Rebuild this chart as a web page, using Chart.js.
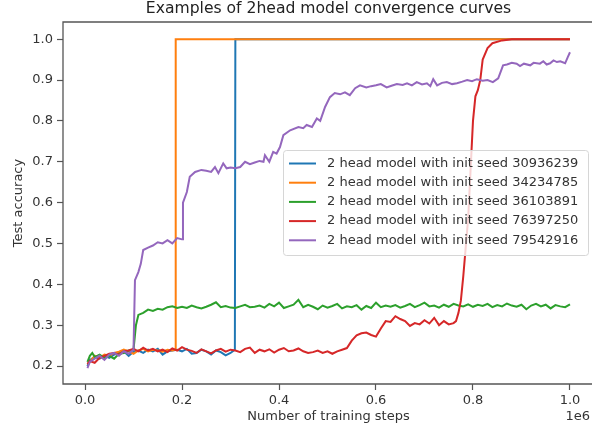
<!DOCTYPE html>
<html lang="en">
<head>
  <meta charset="UTF-8" />
  <title>2head model convergence curves</title>
  <script src="https://cdn.jsdelivr.net/npm/chart.js"></script>
  <style>
    body { margin: 0; background: #fff; }
    canvas { display: block; }
  </style>
</head>
<body>
  <canvas id="curves" width="592" height="430"></canvas>

  <script>
    const seedLabels = [
      "2 head model with init seed 30936239",
      "2 head model with init seed 34234785",
      "2 head model with init seed 36103891",
      "2 head model with init seed 76397250",
      "2 head model with init seed 79542916"
    ];
    const lineColors = ["#1f77b4", "#ff7f0e", "#2ca02c", "#d62728", "#9467bd"];
    const xTicks = [0, 0.2, 0.4, 0.6, 0.8, 1.0];
    const yTicks = [0.2, 0.3, 0.4, 0.5, 0.6, 0.7, 0.8, 0.9, 1.0];

    // training steps are in units of 1e6
    const blueSteps = [0.005, 0.01, 0.02, 0.03, 0.04, 0.05, 0.06, 0.07, 0.08, 0.09, 0.10, 0.11, 0.12, 0.13, 0.14, 0.15,
      0.16, 0.17, 0.18, 0.19, 0.20, 0.21, 0.22, 0.23, 0.24, 0.25, 0.26, 0.27, 0.28, 0.29, 0.30, 0.309, 0.31, 1.0];
    const blueAcc = [0.200, 0.215, 0.222, 0.218, 0.225, 0.220, 0.228, 0.232, 0.236, 0.225, 0.235, 0.238, 0.232, 0.240, 0.236, 0.242,
      0.228, 0.236, 0.238, 0.240, 0.236, 0.242, 0.230, 0.232, 0.240, 0.236, 0.228, 0.238, 0.234, 0.226, 0.232, 0.240, 1.0, 1.0];

    const orangeSteps = [0.005, 0.01, 0.02, 0.03, 0.04, 0.05, 0.06, 0.07, 0.08, 0.09, 0.10, 0.11, 0.12, 0.13, 0.14, 0.15,
      0.16, 0.17, 0.18, 0.186, 0.187, 1.0];
    const orangeAcc = [0.205, 0.210, 0.225, 0.220, 0.228, 0.225, 0.232, 0.235, 0.240, 0.236, 0.230, 0.238, 0.242, 0.236, 0.240, 0.238,
      0.235, 0.240, 0.238, 0.240, 1.0, 1.0];

    const greenSteps = [0.005, 0.01, 0.015, 0.02, 0.03, 0.04, 0.05, 0.06, 0.07, 0.08, 0.09, 0.10, 0.105, 0.11, 0.12, 0.13,
      0.14, 0.15, 0.16, 0.17, 0.18, 0.19, 0.20, 0.21, 0.22, 0.23, 0.24, 0.25, 0.26, 0.27, 0.28, 0.29,
      0.30, 0.31, 0.32, 0.33, 0.34, 0.35, 0.36, 0.37, 0.38, 0.39, 0.40, 0.41, 0.42, 0.43, 0.44, 0.45,
      0.46, 0.47, 0.48, 0.49, 0.50, 0.51, 0.52, 0.53, 0.54, 0.55, 0.56, 0.57, 0.58, 0.59, 0.60, 0.61,
      0.62, 0.63, 0.64, 0.65, 0.66, 0.67, 0.68, 0.69, 0.70, 0.71, 0.72, 0.73, 0.74, 0.75, 0.76, 0.77,
      0.78, 0.79, 0.80, 0.81, 0.82, 0.83, 0.84, 0.85, 0.86, 0.87, 0.88, 0.89, 0.90, 0.91, 0.92, 0.93,
      0.94, 0.95, 0.96, 0.97, 0.98, 0.99, 1.00];
    const greenAcc = [0.210, 0.225, 0.232, 0.222, 0.228, 0.220, 0.225, 0.218, 0.230, 0.232, 0.238, 0.240, 0.300, 0.325, 0.330, 0.338,
      0.335, 0.340, 0.338, 0.344, 0.346, 0.342, 0.345, 0.342, 0.348, 0.344, 0.341, 0.345, 0.350, 0.356, 0.344, 0.347,
      0.343, 0.342, 0.346, 0.350, 0.344, 0.345, 0.348, 0.343, 0.352, 0.346, 0.355, 0.342, 0.346, 0.350, 0.362, 0.344,
      0.350, 0.345, 0.339, 0.348, 0.343, 0.347, 0.352, 0.341, 0.346, 0.344, 0.349, 0.338, 0.347, 0.342, 0.355, 0.344,
      0.348, 0.345, 0.349, 0.343, 0.347, 0.352, 0.344, 0.349, 0.355, 0.346, 0.348, 0.343, 0.350, 0.345, 0.352, 0.348,
      0.346, 0.351, 0.345, 0.350, 0.347, 0.352, 0.344, 0.349, 0.346, 0.353, 0.348, 0.345, 0.350, 0.339, 0.348, 0.352,
      0.346, 0.350, 0.341, 0.349, 0.346, 0.344, 0.351];

    const redSteps = [0.005, 0.01, 0.02, 0.03, 0.04, 0.05, 0.06, 0.07, 0.08, 0.09, 0.10, 0.11, 0.12, 0.13, 0.14, 0.15,
      0.16, 0.17, 0.18, 0.19, 0.20, 0.21, 0.22, 0.23, 0.24, 0.25, 0.26, 0.27, 0.28, 0.29, 0.30, 0.31,
      0.32, 0.33, 0.34, 0.35, 0.36, 0.37, 0.38, 0.39, 0.40, 0.41, 0.42, 0.43, 0.44, 0.45, 0.46, 0.47,
      0.48, 0.49, 0.50, 0.51, 0.52, 0.53, 0.54, 0.55, 0.56, 0.57, 0.58, 0.59, 0.60, 0.61, 0.62, 0.63,
      0.64, 0.65, 0.66, 0.67, 0.68, 0.69, 0.70, 0.71, 0.72, 0.73, 0.74, 0.75, 0.76, 0.765, 0.77, 0.775,
      0.78, 0.785, 0.79, 0.795, 0.80, 0.805, 0.81, 0.815, 0.82, 0.83, 0.84, 0.86, 0.88, 1.0];
    const redAcc = [0.205, 0.212, 0.208, 0.220, 0.225, 0.230, 0.232, 0.228, 0.236, 0.238, 0.242, 0.236, 0.245, 0.238, 0.242, 0.236,
      0.240, 0.234, 0.243, 0.238, 0.246, 0.240, 0.237, 0.232, 0.241, 0.236, 0.231, 0.238, 0.242, 0.235, 0.240, 0.238,
      0.234, 0.242, 0.245, 0.232, 0.240, 0.236, 0.241, 0.233, 0.240, 0.244, 0.236, 0.238, 0.243, 0.236, 0.232, 0.234,
      0.238, 0.232, 0.236, 0.230, 0.236, 0.240, 0.244, 0.262, 0.275, 0.280, 0.282, 0.276, 0.272, 0.292, 0.310, 0.308,
      0.322, 0.315, 0.310, 0.298, 0.305, 0.302, 0.312, 0.304, 0.318, 0.300, 0.310, 0.302, 0.305, 0.310, 0.330, 0.360,
      0.420, 0.490, 0.560, 0.680, 0.800, 0.860, 0.875, 0.900, 0.950, 0.978, 0.990, 0.997, 1.0, 1.0];

    const purpleSteps = [0.005, 0.01, 0.02, 0.03, 0.04, 0.05, 0.06, 0.07, 0.08, 0.09, 0.095, 0.10, 0.103, 0.11, 0.115, 0.12,
      0.13, 0.14, 0.15, 0.16, 0.17, 0.18, 0.19, 0.20, 0.202, 0.21, 0.216, 0.227, 0.24, 0.25, 0.26, 0.268,
      0.275, 0.285, 0.292, 0.30, 0.31, 0.32, 0.33, 0.34, 0.35, 0.36, 0.368, 0.371, 0.38, 0.388, 0.395, 0.402,
      0.409, 0.423, 0.44, 0.45, 0.457, 0.468, 0.478, 0.485, 0.495, 0.505, 0.515, 0.526, 0.536, 0.546, 0.557, 0.567,
      0.58, 0.59, 0.60, 0.61, 0.622, 0.632, 0.643, 0.655, 0.664, 0.674, 0.684, 0.695, 0.705, 0.712, 0.718, 0.726,
      0.736, 0.746, 0.757, 0.767, 0.778, 0.788, 0.798, 0.808, 0.82, 0.83, 0.841, 0.852, 0.862, 0.87, 0.88, 0.89,
      0.897, 0.905, 0.918, 0.925, 0.938, 0.945, 0.952, 0.959, 0.966, 0.973, 0.98, 0.99, 0.995, 1.0];
    const purpleAcc = [0.195, 0.210, 0.218, 0.225, 0.215, 0.228, 0.232, 0.225, 0.236, 0.230, 0.235, 0.240, 0.410, 0.430, 0.450, 0.484,
      0.490, 0.495, 0.503, 0.500, 0.508, 0.500, 0.513, 0.510, 0.600, 0.626, 0.663, 0.675, 0.680, 0.678, 0.675, 0.687,
      0.672, 0.696, 0.684, 0.686, 0.684, 0.687, 0.700, 0.694, 0.698, 0.702, 0.700, 0.716, 0.700, 0.724, 0.720, 0.736,
      0.765, 0.777, 0.785, 0.782, 0.790, 0.785, 0.806, 0.800, 0.834, 0.858, 0.868, 0.865, 0.870, 0.863, 0.880, 0.887,
      0.882, 0.885, 0.887, 0.890, 0.882, 0.886, 0.890, 0.888, 0.892, 0.887, 0.895, 0.889, 0.892, 0.885, 0.902, 0.887,
      0.893, 0.895, 0.890, 0.892, 0.896, 0.900, 0.897, 0.902, 0.898, 0.900, 0.895, 0.904, 0.936, 0.938, 0.942, 0.940,
      0.934, 0.940, 0.936, 0.942, 0.940, 0.946, 0.938, 0.941, 0.948, 0.944, 0.946, 0.941, 0.955, 0.968];

    const allSteps = [blueSteps, orangeSteps, greenSteps, redSteps, purpleSteps];
    const allAcc = [blueAcc, orangeAcc, greenAcc, redAcc, purpleAcc];

    const FONT = "'DejaVu Sans', sans-serif";
    const TEXT = "#333";

    const datasets = seedLabels.map((label, i) => ({
      label,
      data: allSteps[i].map((x, j) => ({ x, y: allAcc[i][j] })),
      borderColor: lineColors[i],
      backgroundColor: lineColors[i],
      borderWidth: 2,
      pointRadius: 0,
      tension: 0,
      // later seeds sit on top, like the plotting order
      order: seedLabels.length - i
    }));

    // spines, legend box and the texts around the axes
    const decorations = {
      id: 'decorations',
      afterDatasetsDraw(chart) {
        const { ctx, chartArea: a } = chart;
        ctx.save();

        ctx.strokeStyle = "#555";
        ctx.lineWidth = 1.3;
        ctx.beginPath();
        ctx.moveTo(a.right + 2, a.top);
        ctx.lineTo(a.left, a.top);
        ctx.lineTo(a.left, a.bottom);
        ctx.lineTo(a.right + 2, a.bottom);
        ctx.stroke();

        // legend
        const lx = 283, ly = 150, lw = 305, lh = 105;
        ctx.beginPath();
        ctx.roundRect(lx + 0.5, ly + 0.5, lw, lh, 3);
        ctx.fillStyle = "rgba(255,255,255,0.8)";
        ctx.fill();
        ctx.strokeStyle = "#d6d6d6";
        ctx.lineWidth = 1;
        ctx.stroke();

        ctx.font = `13px ${FONT}`;
        ctx.textBaseline = "middle";
        ctx.textAlign = "left";
        seedLabels.forEach((label, i) => {
          const y = 163.5 + i * 19.2;
          ctx.strokeStyle = lineColors[i];
          ctx.lineWidth = 2;
          ctx.beginPath();
          ctx.moveTo(289, y);
          ctx.lineTo(316, y);
          ctx.stroke();
          ctx.fillStyle = TEXT;
          ctx.fillText(label, 327, y);
        });

        const midX = (a.left + 594) / 2;
        ctx.fillStyle = "#222";
        ctx.textAlign = "center";
        ctx.font = `15.6px ${FONT}`;
        ctx.fillText("Examples of 2head model convergence curves", midX, 9);

        ctx.fillStyle = TEXT;
        ctx.font = `13px ${FONT}`;
        ctx.fillText("Number of training steps", midX, 417);

        ctx.textAlign = "right";
        ctx.fillText("1e6", 590, 417);

        ctx.translate(19, (a.top + a.bottom) / 2);
        ctx.rotate(-Math.PI / 2);
        ctx.textAlign = "center";
        ctx.fillText("Test accuracy", 0, 0);

        ctx.restore();
      }
    };

    const tickGrid = {
      drawOnChartArea: false,
      drawTicks: true,
      tickLength: 6,
      tickWidth: 1.2,
      tickColor: "#555"
    };

    new Chart(document.getElementById('curves'), {
      type: 'line',
      data: { datasets },
      options: {
        responsive: false,
        animation: false,
        layout: { padding: { top: 22, left: 0, right: 0, bottom: 0 } },
        plugins: {
          legend: { display: false },
          tooltip: { enabled: false },
          title: { display: false }
        },
        scales: {
          x: {
            type: 'linear',
            min: -0.0454,
            max: 1.0454,
            afterBuildTicks: s => { s.ticks = xTicks.map(value => ({ value })); },
            afterFit: s => { s.height = 46; },
            grid: tickGrid,
            border: { display: false },
            ticks: {
              padding: 3,
              color: TEXT,
              font: { family: FONT, size: 13 },
              maxRotation: 0,
              callback: v => v.toFixed(1)
            }
          },
          y: {
            type: 'linear',
            min: 0.156,
            max: 1.042,
            afterBuildTicks: s => { s.ticks = yTicks.map(value => ({ value })); },
            afterFit: s => { s.width = 63; },
            grid: tickGrid,
            border: { display: false },
            ticks: {
              padding: 4,
              color: TEXT,
              font: { family: FONT, size: 13 },
              callback: v => v.toFixed(1)
            }
          }
        }
      },
      plugins: [decorations]
    });
  </script>
</body>
</html>
